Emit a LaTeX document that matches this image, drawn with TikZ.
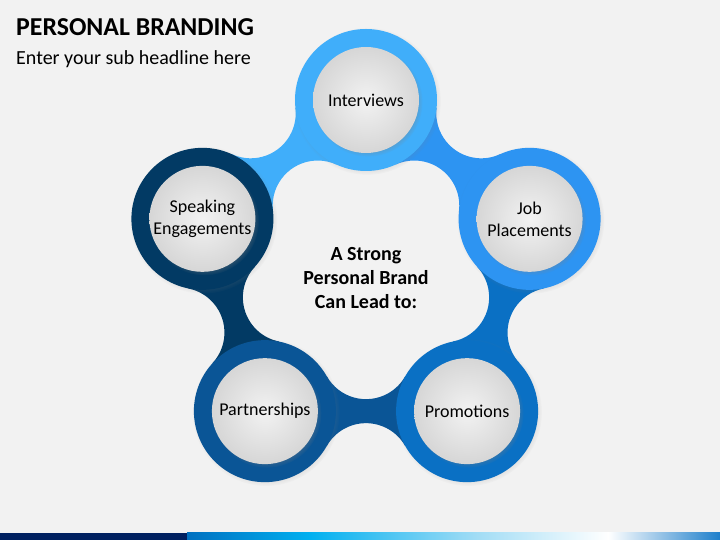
\documentclass[tikz,border=0pt]{standalone}
\usepackage{fontspec}
\setmainfont{Carlito}
\usepackage{xcolor}
\usepackage{tikz}
\usetikzlibrary{calc,shadows,fadings}
\definecolor{bgc}{RGB}{242,242,242}
\definecolor{intc}{RGB}{64,174,250}
\definecolor{jobc}{RGB}{45,148,242}
\definecolor{proc}{RGB}{10,112,196}
\definecolor{parc}{RGB}{10,85,150}
\definecolor{spkc}{RGB}{2,58,100}
\definecolor{navy}{RGB}{0,32,96}
\definecolor{stripa}{RGB}{0,112,192}
\definecolor{stripb}{RGB}{0,176,240}
\definecolor{stripc}{RGB}{160,220,245}
\definecolor{stripd}{RGB}{30,127,203}
\pgfdeclarehorizontalshading{stripshade}{100bp}{color(0bp)=(stripa); color(25bp)=(stripa); color(36.5bp)=(stripb); color(52bp)=(stripc); color(64.5bp)=(white); color(75bp)=(stripd); color(100bp)=(stripd)}
\pgfdeclarelayer{bg}
\pgfsetlayers{bg,main}

\begin{document}
\begin{tikzpicture}[x=1pt,y=1pt,inner sep=0pt,
  ring/.style={circle,fill=#1,minimum size=142pt,circular drop shadow={shadow scale=1.04,shadow xshift=1pt,shadow yshift=-1pt,opacity=0.3}},
  disc/.style={circle,minimum size=106pt,inner color=bgc,outer color=black!16,align=center,
    font=\fontsize{18}{22}\selectfont,circular drop shadow={shadow scale=1.03,shadow xshift=2pt,shadow yshift=-2pt,opacity=0.45}}]
\useasboundingbox (0,0) rectangle (720,540);
\coordinate (ctr) at (366,268);

\node[ring=intc] (int) at ([shift={(90:172)}]ctr) {};
\node[ring=jobc] (job) at ([shift={(18:172)}]ctr) {};
\node[ring=proc] (pro) at ([shift={(-54:172)}]ctr) {};
\node[ring=parc] (par) at ([shift={(-126:172)}]ctr) {};
\node[ring=spkc] (spk) at ([shift={(162:172)}]ctr) {};

\node[disc] (intd) at (int) {Interviews};
\node[disc] (jobd) at (job) {Job\\Placements};
\node[disc] (prod) at (pro) {Promotions};
\node[disc] (pard) at (par) {Partnerships};
\node[disc] (spkd) at (spk) {Speaking\\Engagements};

\node[align=center,font=\fontsize{20}{24}\selectfont\bfseries] (lead) at ([yshift=-6pt]ctr) {A Strong\\Personal Brand\\Can Lead to:};

\node[anchor=base west,font=\fontsize{25.8}{30}\selectfont\bfseries] (title) at (16,504) {PERSONAL BRANDING};
\node[anchor=base west,font=\fontsize{20}{24}\selectfont] (sub) at (16,475) {Enter your sub headline here};

\begin{pgfonlayer}{bg}
\fill[bgc] (0,0) rectangle (720,540);
\foreach \a/\b/\rot/\col in {int/spk/36/intc,job/int/-36/jobc,pro/job/-108/proc,par/pro/-180/parc,spk/par/-252/spkc}
  \fill[\col,shift={($(\a)!0.5!(\b)$)},rotate=\rot] (-39.2,34.9) arc[start angle=209.4,end angle=330.6,radius=45]
    -- (101.1,0) -- (39.2,-34.9) arc[start angle=29.4,end angle=150.6,radius=45] -- (-101.1,0) -- cycle;
\fill[navy] (0,0) rectangle (187,7);
\shade[shading=stripshade] (187,0) rectangle (720,7);
\end{pgfonlayer}
\end{tikzpicture}
\end{document}
